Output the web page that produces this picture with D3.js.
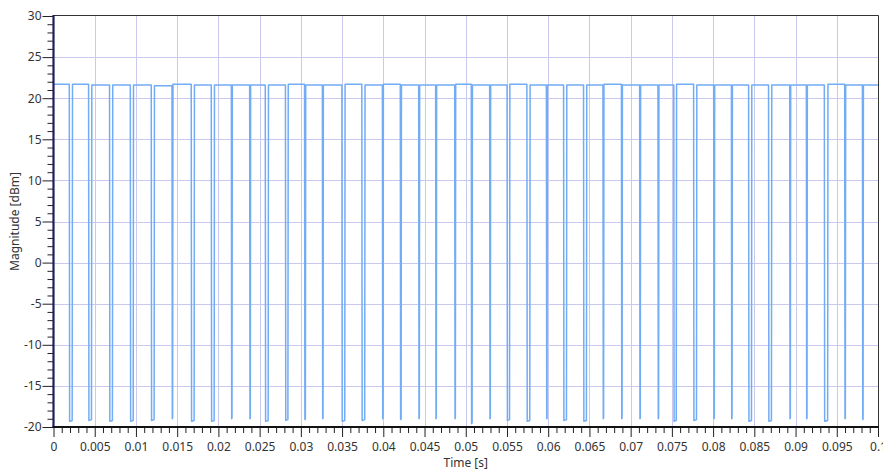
<!DOCTYPE html>
<html>
<head>
<meta charset="utf-8">
<script src="https://cdn.jsdelivr.net/npm/d3@7"></script>
<style>
  body { margin: 0; background: #ffffff; }
  svg text { font-family: "Segoe UI", "Noto Sans", "Open Sans", sans-serif; }
</style>
</head>
<body>
<svg id="chart" width="883" height="471"></svg>
<script>
// Pulse train: time of each drop-out [s]
const dipTimes = [
  0.00209, 0.00443, 0.00697, 0.00949, 0.01203, 0.01441, 0.01688, 0.01931, 0.02161, 0.02383,
  0.02586, 0.02828, 0.03050, 0.03265, 0.03515, 0.03757, 0.03993, 0.04211, 0.04433, 0.04639,
  0.04870, 0.05072, 0.05294, 0.05516, 0.05759, 0.05982, 0.06204, 0.06446, 0.06668, 0.06892,
  0.07113, 0.07335, 0.07538, 0.07781, 0.08011, 0.08226, 0.08448, 0.08690, 0.08933, 0.09135,
  0.09369, 0.09600, 0.09815
];
// Duration of each drop-out floor [s]
const dipWidths = [
  0.00035, 0.00035, 0.00035, 0.00035, 0.00035, 0.00008, 0.00035, 0.00035, 0.00008, 0.00008,
  0.00035, 0.00030, 0.00010, 0.00008, 0.00035, 0.00035, 0.00008, 0.00010, 0.00008, 0.00008,
  0.00008, 0.00010, 0.00008, 0.00030, 0.00035, 0.00008, 0.00035, 0.00035, 0.00008, 0.00008,
  0.00008, 0.00008, 0.00030, 0.00035, 0.00008, 0.00008, 0.00035, 0.00035, 0.00008, 0.00008,
  0.00040, 0.00008, 0.00008
];
// Lowest magnitude reached in each drop-out [dBm]
const dipFloors = [
  -19.3, -19.2, -19.3, -19.3, -19.2, -19.0, -19.3, -19.3, -19.0, -19.0,
  -19.3, -19.2, -19.1, -19.0, -19.3, -19.2, -19.0, -19.1, -19.0, -19.0,
  -19.0, -19.6, -19.0, -19.2, -19.3, -19.0, -19.2, -19.3, -19.0, -19.0,
  -19.0, -19.0, -19.3, -19.2, -19.0, -19.0, -19.3, -19.3, -19.0, -19.0,
  -19.3, -19.0, -19.1
];
// Carrier level of each on-segment between drop-outs [dBm]
const highLevels = [
  21.7, 21.7, 21.6, 21.6, 21.6, 21.5, 21.7, 21.6, 21.6, 21.6, 21.6,
  21.6, 21.7, 21.6, 21.6, 21.7, 21.6, 21.7, 21.6, 21.6, 21.6,
  21.7, 21.6, 21.6, 21.7, 21.6, 21.6, 21.6, 21.6, 21.7, 21.6,
  21.6, 21.6, 21.7, 21.6, 21.6, 21.6, 21.6, 21.6, 21.6, 21.6,
  21.7, 21.6, 21.6
];

const xTickLabels = ["0", "0.005", "0.01", "0.015", "0.02", "0.025", "0.03", "0.035", "0.04", "0.045",
  "0.05", "0.055", "0.06", "0.065", "0.07", "0.075", "0.08", "0.085", "0.09", "0.095", "0.1"];
const yTickLabels = ["-20", "-15", "-10", "-5", "0", "5", "10", "15", "20", "25", "30"];

const plotLeft = 53.5, plotRight = 878, plotTop = 16, plotBottom = 427;

const svg = d3.select("#chart");

const x = d3.scaleLinear().domain([0, 0.1]).range([plotLeft, plotRight]);
const y = d3.scaleLinear().domain([-20, 30]).range([plotBottom, plotTop]);

const xMajor = xTickLabels.map(Number);
const yMajor = yTickLabels.map(Number);
const xMinor = d3.range(0, 101).map(i => i * 0.001).filter(v => !xMajor.some(m => Math.abs(m - v) < 1e-9));
const yMinor = d3.range(-20, 31).filter(v => v % 5 !== 0);

// grid
const grid = svg.append("g").attr("stroke", "#c9c9f0").attr("stroke-width", 1);
grid.selectAll("line.gx").data(xMajor.slice(1, -1)).join("line")
  .attr("x1", d => Math.round(x(d)) + 0.5).attr("x2", d => Math.round(x(d)) + 0.5)
  .attr("y1", plotTop).attr("y2", plotBottom);
grid.selectAll("line.gy").data(yMajor.slice(1, -1)).join("line")
  .attr("x1", plotLeft).attr("x2", plotRight)
  .attr("y1", d => Math.round(y(d)) + 0.5).attr("y2", d => Math.round(y(d)) + 0.5);

// signal trace
const pts = [[0, highLevels[0]]];
dipTimes.forEach((t, i) => {
  const w = dipWidths[i];
  const t0 = t - w / 2, t1 = t + w / 2;
  pts.push([t0, highLevels[i]]);
  pts.push([t0 + 0.00004, dipFloors[i]]);
  pts.push([t1, dipFloors[i] + 0.1]);
  pts.push([t1 + 0.00004, highLevels[i + 1]]);
});
pts.push([0.1, highLevels[highLevels.length - 1]]);

const line = d3.line().x(d => x(d[0])).y(d => y(d[1]));
svg.append("path")
  .datum(pts)
  .attr("d", line)
  .attr("fill", "none")
  .attr("stroke", "#72acf5")
  .attr("stroke-width", 1.5)
  .attr("stroke-linejoin", "round");

// frame (top and right)
svg.append("line").attr("x1", plotLeft).attr("x2", plotRight + 0.5).attr("y1", plotTop - 0.5).attr("y2", plotTop - 0.5)
  .attr("stroke", "#333").attr("stroke-width", 1);
svg.append("line").attr("x1", plotRight + 0.5).attr("x2", plotRight + 0.5).attr("y1", plotTop - 0.5).attr("y2", plotBottom)
  .attr("stroke", "#333").attr("stroke-width", 1);

// y axis
const yAxisMajor = d3.axisLeft(y).tickValues(yMajor).tickSize(11).tickPadding(1)
  .tickFormat((d, i) => yTickLabels[i]);
const yAxisMinor = d3.axisLeft(y).tickValues(yMinor).tickSize(6).tickFormat("");
const gyMin = svg.append("g").attr("transform", `translate(${plotLeft},0)`).call(yAxisMinor);
const gy = svg.append("g").attr("transform", `translate(${plotLeft},0)`).call(yAxisMajor);
[gy, gyMin].forEach(g => {
  g.select(".domain").remove();
  g.selectAll(".tick line").attr("stroke", "#222");
});
gy.selectAll("text").attr("font-size", "12px").attr("fill", "#333");
svg.append("line").attr("x1", plotLeft).attr("x2", plotLeft).attr("y1", plotTop - 1).attr("y2", plotBottom + 1)
  .attr("stroke", "#1f1f5c").attr("stroke-width", 2.2);

// x axis
const xAxisMajor = d3.axisBottom(x).tickValues(xMajor).tickSize(10).tickPadding(5)
  .tickFormat((d, i) => xTickLabels[i]);
const xAxisMinor = d3.axisBottom(x).tickValues(xMinor).tickSize(6).tickFormat("");
const gxMin = svg.append("g").attr("transform", `translate(0,${plotBottom})`).call(xAxisMinor);
const gx = svg.append("g").attr("transform", `translate(0,${plotBottom})`).call(xAxisMajor);
[gx, gxMin].forEach(g => {
  g.select(".domain").remove();
  g.selectAll(".tick line").attr("stroke", "#222");
});
gx.selectAll("text").attr("font-size", "12px").attr("fill", "#333");
svg.append("line").attr("x1", plotLeft - 1).attr("x2", plotRight + 1).attr("y1", plotBottom).attr("y2", plotBottom)
  .attr("stroke", "#111").attr("stroke-width", 2);

// axis titles
svg.append("text").attr("x", (plotLeft + plotRight) / 2).attr("y", 467)
  .attr("text-anchor", "middle").attr("font-size", "12px").attr("fill", "#333").text("Time [s]");
svg.append("text").attr("transform", `translate(19,${(plotTop + plotBottom) / 2}) rotate(-90)`)
  .attr("text-anchor", "middle").attr("font-size", "12px").attr("fill", "#333").text("Magnitude [dBm]");
</script>
</body>
</html>
